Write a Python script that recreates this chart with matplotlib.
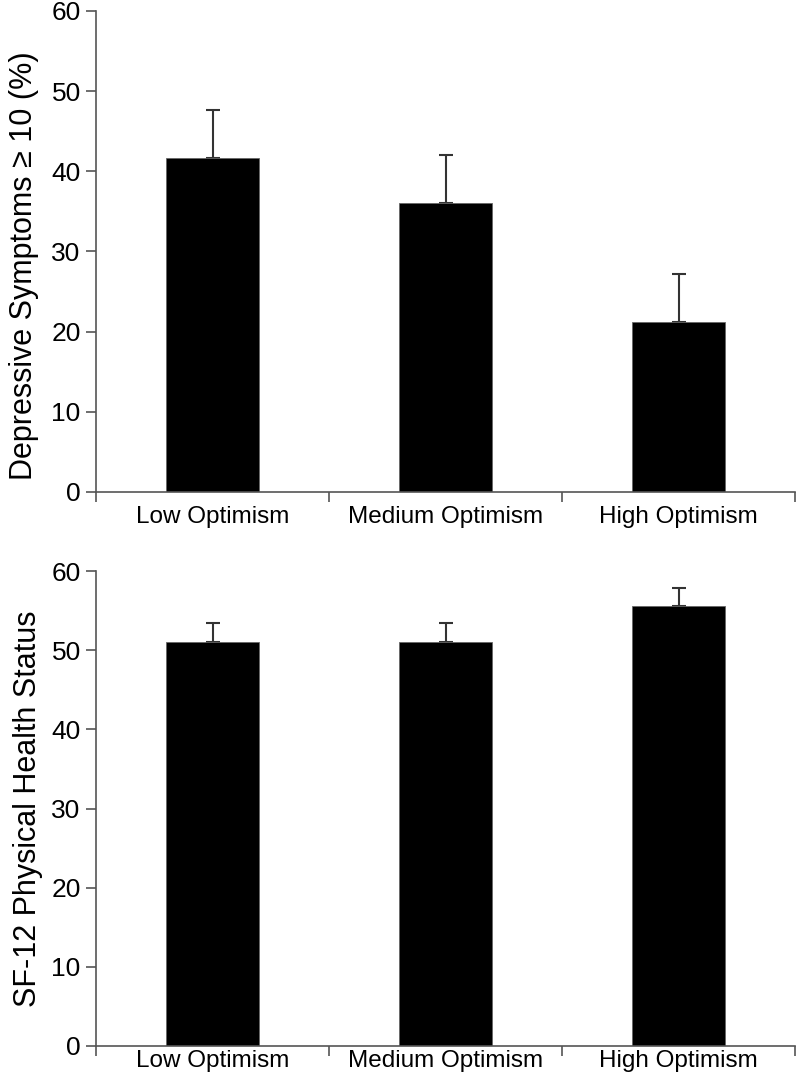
import numpy as np
import matplotlib
matplotlib.use("Agg")
import matplotlib.pyplot as plt

plt.rcParams["font.family"] = ["Liberation Sans", "DejaVu Sans"]

groups = ["Low Optimism", "Medium Optimism", "High Optimism"]

# Panel A: depressive symptoms (%)
depressive = [41.7, 36.0, 21.2]
depressive_err = [6.0, 6.0, 6.0]

# Panel B: SF-12 physical health
physical = [51.0, 51.0, 55.6]
physical_err = [2.4, 2.4, 2.3]

fig = plt.figure(figsize=(8.0, 10.77), dpi=100)
ax1 = fig.add_axes([0.12, 0.5432, 0.874, 0.4466])
ax2 = fig.add_axes([0.12, 0.0288, 0.874, 0.4410])


def draw_panel(ax, values, errs, ylabel, xpad):
    x = np.arange(len(groups))
    ax.bar(x, values, width=0.4, color="black", edgecolor="#666666", linewidth=0.6, zorder=2)
    ax.errorbar(x, values, yerr=[np.zeros(len(errs)), errs], fmt="none",
                ecolor="#333333", elinewidth=1.5, capsize=5, capthick=1.5, zorder=1)
    ax.set_xlim(-0.5, len(groups) - 0.5)
    ax.set_ylim(0, 60)
    ax.set_yticks(np.arange(0, 61, 10))
    ax.set_xticks(x)
    ax.set_xticklabels(groups)
    ax.set_xticks(np.arange(-0.5, len(groups), 1.0), minor=True)
    ax.tick_params(axis="x", which="major", length=0, pad=xpad, labelsize=17.5)
    ax.tick_params(axis="x", which="minor", length=7, width=1.2, color="#555555", direction="out")
    ax.tick_params(axis="y", length=7, width=1.2, color="#555555", direction="out", labelsize=19, pad=4)
    for side in ["top", "right"]:
        ax.spines[side].set_visible(False)
    for side in ["left", "bottom"]:
        ax.spines[side].set_color("#555555")
        ax.spines[side].set_linewidth(1.2)
    ax.set_ylabel(ylabel, fontsize=22, labelpad=6)


draw_panel(ax1, depressive, depressive_err, "Depressive Symptoms \u2265 10 (%)", 10)
draw_panel(ax2, physical, physical_err, "SF-12 Physical Health Status", 3)
ax1.yaxis.set_label_coords(-0.082, 0.47)

fig.savefig("out.png", dpi=100)
